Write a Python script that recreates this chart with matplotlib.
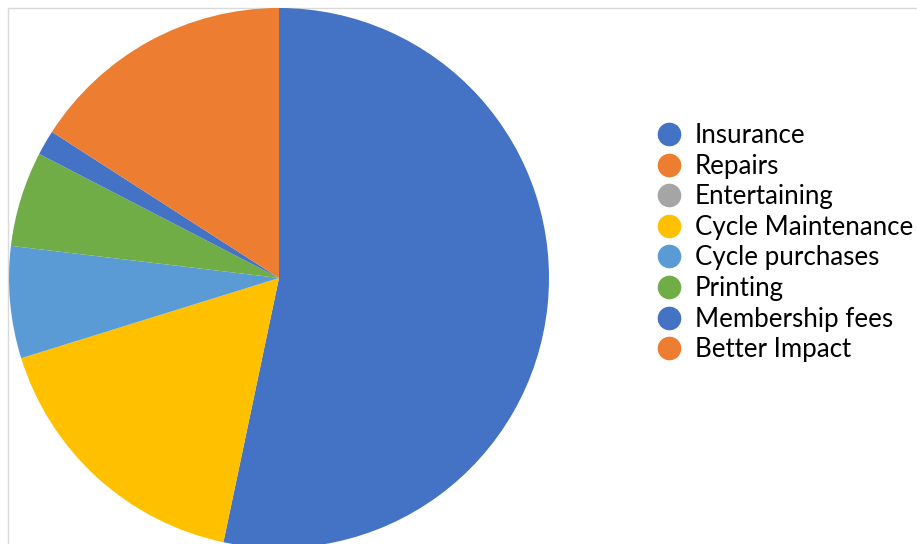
import matplotlib
matplotlib.use("Agg")
import matplotlib.pyplot as plt
from matplotlib.lines import Line2D

categories = ["Insurance", "Repairs", "Entertaining", "Cycle Maintenance",
              "Cycle purchases", "Printing", "Membership fees", "Better Impact"]
values = [53.3, 0.0, 0.0, 16.9, 6.7, 5.7, 1.5, 15.9]
colors = ["#4472C4", "#ED7D31", "#A5A5A5", "#FFC000",
          "#5B9BD5", "#70AD47", "#4472C4", "#ED7D31"]

W, H = 917, 544
fig = plt.figure(figsize=(W / 100, H / 100), dpi=100)
ax = fig.add_axes([0, 0, 1, 1])

# chart frame (top and left edges visible)
ax.plot([8, W], [H - 8, H - 8], color="#D9D9D9", lw=1, zorder=0)
ax.plot([8, 8], [0, H - 8], color="#D9D9D9", lw=1, zorder=0)

cx, cy, r = 279, H - 278, 270
ax.pie(values, colors=colors, startangle=90, counterclock=False,
       center=(cx, cy), radius=r, frame=True,
       wedgeprops=dict(linewidth=0))
ax.set_xlim(0, W)
ax.set_ylim(0, H)
ax.set_aspect("equal")
ax.axis("off")

handles = [Line2D([], [], marker="o", linestyle="none", markersize=16,
                  markerfacecolor=c, markeredgecolor=c) for c in colors]
leg = ax.legend(handles, categories, loc="upper left",
                bbox_to_anchor=(656 / W, 1 - 123 / H), frameon=False,
                prop=dict(family="Lato", size=18.6), labelspacing=0.217,
                handletextpad=0.51, handlelength=1.0, borderpad=0, borderaxespad=0)

fig.savefig("out.png", dpi=100)
